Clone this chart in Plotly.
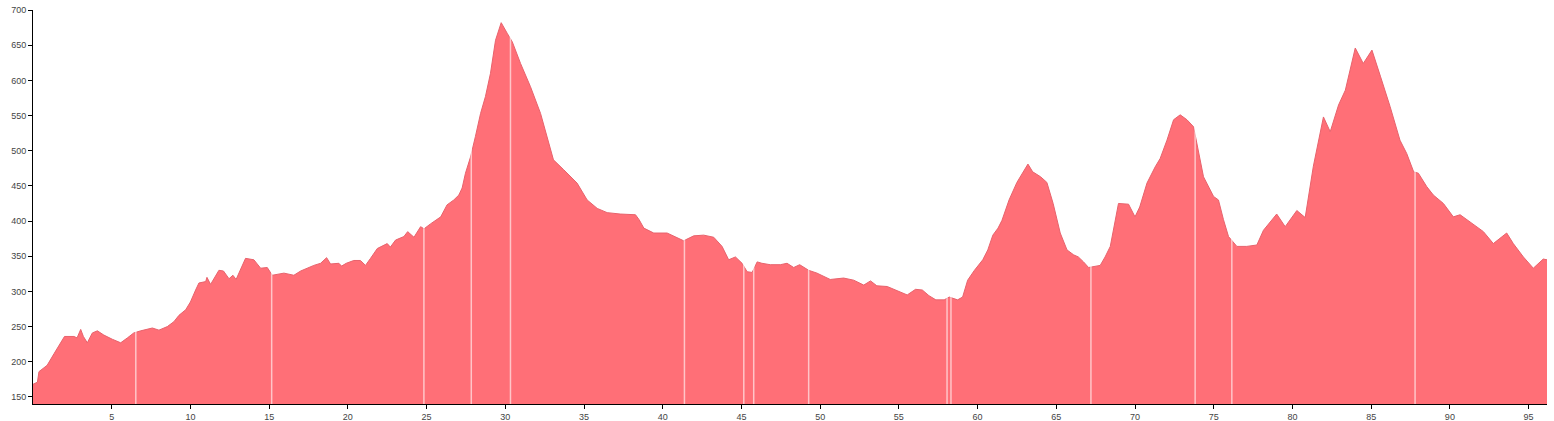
import plotly.graph_objects as go

km = [0.0, 0.28, 0.38, 0.7, 0.9, 1.35, 2.0, 2.6, 2.8, 3.03, 3.2, 3.45, 3.77, 4.09, 4.5, 5.04, 5.25, 5.57,
      6.0, 6.4, 6.84, 7.58, 8.0, 8.53, 8.95, 9.27, 9.7, 10.0, 10.33, 10.54, 10.97, 11.05, 11.28, 11.81,
      12.1, 12.45, 12.7, 12.9, 13.5, 14.03, 14.46, 14.88, 15.2, 15.94, 16.57, 17.0, 17.84, 18.27, 18.65,
      18.9, 19.43, 19.6, 19.9, 20.38, 20.8, 21.12, 21.44, 21.87, 22.5, 22.7, 23.03, 23.56, 23.8, 24.2,
      24.62, 24.84, 25.25, 25.68, 25.9, 26.3, 26.73, 27.05, 27.26, 27.47, 27.79, 28.1, 28.43, 28.74,
      29.06, 29.38, 29.74, 30.12, 30.44, 30.97, 31.6, 32.24, 32.6, 33.06, 33.71, 34.56, 35.2, 35.84,
      36.47, 37.3, 38.27, 38.5, 38.8, 39.43, 40.28, 40.9, 41.33, 41.97, 42.6, 43.24, 43.77, 44.19,
      44.62, 45.04, 45.36, 45.68, 46.0, 46.3, 46.83, 47.47, 47.9, 48.32, 48.7, 49.27, 49.8, 50.64,
      51.49, 52.13, 52.77, 53.2, 53.6, 54.26, 54.9, 55.53, 56.06, 56.49, 56.91, 57.35, 57.88, 58.2,
      58.73, 59.05, 59.37, 59.8, 60.33, 60.65, 60.97, 61.3, 61.55, 62.0, 62.5, 62.9, 63.2, 63.5, 64.0,
      64.4, 64.8, 65.25, 65.68, 66.1, 66.4, 66.73, 67.05, 67.79, 68.1, 68.43, 68.95, 69.59, 70.0, 70.3,
      70.76, 71.28, 71.6, 72.03, 72.45, 72.87, 73.3, 73.72, 74.03, 74.35, 74.99, 75.3, 75.62, 75.94,
      76.47, 77.1, 77.74, 78.16, 79.0, 79.54, 80.28, 80.81, 81.33, 81.97, 82.4, 82.93, 83.36, 83.99,
      84.5, 85.05, 85.6, 86.2, 86.83, 87.26, 87.7, 88.0, 88.53, 88.95, 89.59, 90.22, 90.65, 91.28,
      91.7, 92.13, 92.76, 93.61, 94.03, 94.67, 95.3, 95.93, 96.17]
elevation = [168, 171, 186, 191, 195, 212, 236, 236, 234, 246, 236, 227, 241, 244, 238, 232, 230, 227,
             234, 241, 244, 248, 245, 250, 257, 266, 274, 285, 302, 312, 314, 320, 310, 330,
             329, 318, 323, 317, 347, 345, 333, 334, 323, 326, 323, 329, 337, 340, 348,
             339, 340, 336, 340, 344, 344, 337, 347, 361, 368, 363, 373, 378, 385, 377,
             392, 389, 396, 402, 406, 423, 430, 437, 447, 468, 491, 520, 553, 577,
             610, 657, 682, 667, 655, 624, 591, 553, 525, 487, 473, 454, 430, 418,
             412, 410, 409, 402, 390, 383, 383, 377, 372, 379, 380, 377, 364, 345,
             349, 340, 328, 327, 342, 340, 338, 338, 340, 334, 338, 330, 326, 317,
             319, 316, 309, 315, 308, 307, 301, 295, 303, 302, 294, 288, 288, 292,
             288, 292, 316, 330, 345, 359, 380, 390, 401, 430, 455, 470, 481, 470, 463,
             455, 425, 383, 359, 352, 349, 342, 334, 337, 349, 364, 425, 424, 406, 420,
             454, 477, 489, 515, 544, 551, 544, 534, 501, 463, 435, 430, 402, 378,
             364, 364, 366, 387, 410, 392, 415, 405, 478, 548, 527, 565, 586, 646,
             624, 643, 605, 563, 515, 496, 470, 468, 449, 437, 425, 406, 409, 399,
             392, 385, 368, 383, 368, 349, 333, 346, 345]

# Waypoint markers (km) shown as light vertical lines
markers_km = [6.53, 15.16, 24.83, 27.84, 30.33, 41.38, 45.15, 45.78, 49.27, 58.06, 58.31,
              67.2, 73.82, 76.15, 87.79]

x_ticks = list(range(5, 100, 5))
y_ticks = list(range(150, 701, 50))

fig = go.Figure()
fig.add_trace(go.Scatter(
    x=km, y=elevation, mode="lines", fill="tozeroy",
    fillcolor="#FF6F77", line=dict(color="#E8626C", width=1),
    hoverinfo="x+y", showlegend=False,
))

for m in markers_km:
    fig.add_shape(type="line", x0=m, x1=m, y0=140, y1=700, xref="x", yref="y",
                  line=dict(color="rgba(255,255,255,0.6)", width=1.5), layer="above")

axis_font = dict(family="Arial, Liberation Sans, sans-serif", size=9, color="#444")
fig.update_layout(
    width=1554, height=421,
    margin=dict(l=33, r=7, t=10, b=17, autoexpand=False),
    paper_bgcolor="white", plot_bgcolor="white",
    showlegend=False,
    xaxis=dict(range=[0, 96.17], tickvals=x_ticks, ticks="outside", ticklen=4, tickcolor="black",
               showline=True, linecolor="black", linewidth=1, showgrid=False, zeroline=False,
               tickfont=axis_font, automargin=False),
    yaxis=dict(range=[140, 700], tickvals=y_ticks, ticks="outside", ticklen=4, tickcolor="black",
               showline=True, linecolor="black", linewidth=1, showgrid=False, zeroline=False,
               tickfont=axis_font, automargin=False),
)

fig.write_html("out.html", config={"displayModeBar": False},
               post_script="document.body.style.margin='0';document.body.style.overflow='hidden';")
